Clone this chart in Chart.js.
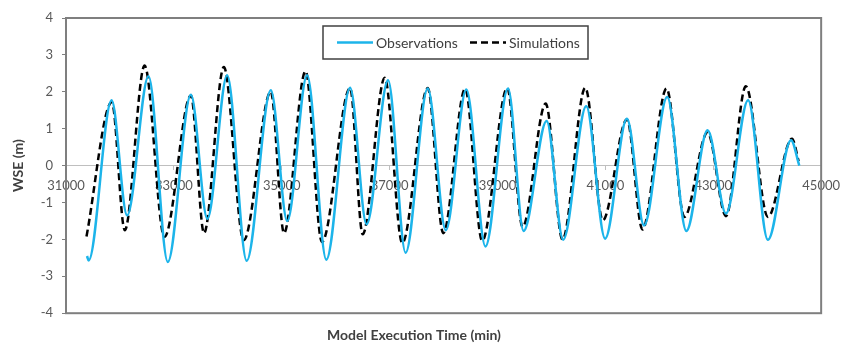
<!DOCTYPE html>
<html>
<head>
<meta charset="utf-8">
<script src="https://cdn.jsdelivr.net/npm/chart.js@4.4.1/dist/chart.umd.min.js"></script>
<style>
  html, body { margin: 0; padding: 0; background: #fff; }
  #wrap { width: 848px; height: 345px; }
</style>
</head>
<body>
<div id="wrap"><canvas id="wseChart"></canvas></div>
<script>
// values (peaks / troughs of each tidal cycle)
const obsTime = [31390, 31420, 31845, 32133, 32530, 32887, 33315, 33621, 33988, 34350,
    34797, 35102, 35470, 35826, 36267, 36573, 36971, 37296, 37706, 38042,
    38422, 38777, 39195, 39483, 39911, 40217, 40645, 40995, 41399, 41717,
    42146, 42501, 42895, 43236, 43646, 44013, 44442, 44595];
const obsWse = [-2.45, -2.57, 1.77, -1.35, 2.42, -2.61, 1.92, -1.44, 2.45, -2.58,
    2.04, -1.50, 2.45, -2.55, 2.11, -1.59, 2.31, -2.36, 2.09, -1.75,
    2.06, -2.19, 2.09, -1.77, 1.21, -2.01, 1.61, -1.98, 1.27, -1.62,
    1.86, -1.77, 0.96, -1.30, 1.77, -2.01, 0.69, 0.00];

const simTime = [31380, 31850, 32090, 32457, 32825, 33315, 33559, 33926, 34295, 34797,
    35042, 35440, 35745, 36267, 36500, 36909, 37234, 37706, 37994, 38400,
    38716, 39180, 39465, 39893, 40205, 40627, 40952, 41399, 41687, 42134,
    42465, 42893, 43236, 43604, 44013, 44460, 44583];
const simWse = [-1.92, 1.72, -1.75, 2.71, -1.93, 1.90, -1.83, 2.67, -2.02, 2.00,
    -1.83, 2.56, -2.07, 2.10, -1.86, 2.38, -2.10, 2.10, -1.83, 2.08,
    -2.04, 2.10, -1.66, 1.68, -2.00, 2.11, -1.48, 1.25, -1.73, 2.09,
    -1.39, 0.90, -1.37, 2.15, -1.39, 0.73, 0.12];

const xTicks = { min: 31000, max: 45000, step: 2000 };
const yTicks = { min: -4, max: 4, step: 1 };

const FONT = "Lato, 'Open Sans', sans-serif";
const TEXT = "#404040";

function toPoints(xs, ys) {
    return xs.map((x, i) => ({ x: x, y: ys[i] }));
}

// plot frame around the chart area
const framePlugin = {
    id: "frame",
    beforeDatasetsDraw(chart) {
        const a = chart.chartArea;
        const ctx = chart.ctx;
        ctx.save();
        ctx.strokeStyle = "#7f7f7f";
        ctx.lineWidth = 2;
        ctx.strokeRect(a.left, a.top, a.right - a.left, a.bottom - a.top);
        ctx.restore();
    }
};

// boxed legend inside the plot, near the top
const boxLegend = {
    id: "boxLegend",
    afterDraw(chart) {
        const ctx = chart.ctx;
        const x0 = 323, y0 = 26, w = 265, h = 33;
        ctx.save();
        ctx.fillStyle = "#fff";
        ctx.fillRect(x0, y0, w, h);
        ctx.strokeStyle = "#404040";
        ctx.lineWidth = 1.5;
        ctx.strokeRect(x0, y0, w, h);
        const cy = y0 + h / 2;
        const starts = [337, 470];
        ctx.font = "14px " + FONT;
        ctx.textBaseline = "middle";
        chart.data.datasets.forEach((ds, i) => {
            const sx = starts[i];
            ctx.strokeStyle = ds.borderColor;
            ctx.lineWidth = ds.borderWidth;
            ctx.setLineDash(ds.borderDash || []);
            ctx.beginPath();
            ctx.moveTo(sx, cy);
            ctx.lineTo(sx + 36, cy);
            ctx.stroke();
            ctx.setLineDash([]);
            ctx.fillStyle = TEXT;
            ctx.fillText(ds.label, sx + 39, cy + 1);
        });
        ctx.restore();
    }
};

const ctx = document.getElementById("wseChart").getContext("2d");
const chart = new Chart(ctx, {
    type: "line",
    data: {
        datasets: [
            {
                label: "Observations",
                data: toPoints(obsTime, obsWse),
                borderColor: "#1cb4ea",
                borderWidth: 2.5,
                pointRadius: 0,
                cubicInterpolationMode: "monotone",
                fill: false
            },
            {
                label: "Simulations",
                data: toPoints(simTime, simWse),
                borderColor: "#000000",
                borderWidth: 2.5,
                borderDash: [7, 4],
                pointRadius: 0,
                cubicInterpolationMode: "monotone",
                fill: false
            }
        ]
    },
    options: {
        responsive: true,
        maintainAspectRatio: false,
        animation: false,
        layout: { padding: { top: 18, right: 20, left: 0, bottom: 0 } },
        plugins: {
            legend: { display: false },
            tooltip: { enabled: false },
            title: {
                display: true,
                position: "bottom",
                text: "Model Execution Time (min)",
                color: TEXT,
                font: { family: FONT, size: 14, weight: "bold" },
                padding: { top: 14, bottom: 1 }
            }
        },
        scales: {
            x: {
                type: "linear",
                position: { y: 0 },
                min: xTicks.min,
                max: xTicks.max,
                ticks: {
                    stepSize: xTicks.step,
                    color: "#595959",
                    font: { family: FONT, size: 13 },
                    padding: 8,
                    maxRotation: 0,
                    callback: v => String(v)
                },
                grid: { drawOnChartArea: false, tickLength: 4, color: "#bfbfbf" },
                border: { color: "#bfbfbf", width: 1 }
            },
            y: {
                min: yTicks.min,
                max: yTicks.max,
                afterFit: s => { s.width = 66; },
                ticks: {
                    stepSize: yTicks.step,
                    color: "#595959",
                    font: { family: FONT, size: 13 },
                    padding: 9
                },
                grid: { drawOnChartArea: false, tickLength: 4, color: "#7f7f7f" },
                border: { color: "#7f7f7f", width: 2 },
                title: {
                    display: true,
                    text: "WSE (m)",
                    color: TEXT,
                    font: { family: FONT, size: 14, weight: "bold" },
                    padding: { top: 10, bottom: 4 }
                }
            }
        }
    },
    plugins: [framePlugin, boxLegend]
});
</script>
</body>
</html>
